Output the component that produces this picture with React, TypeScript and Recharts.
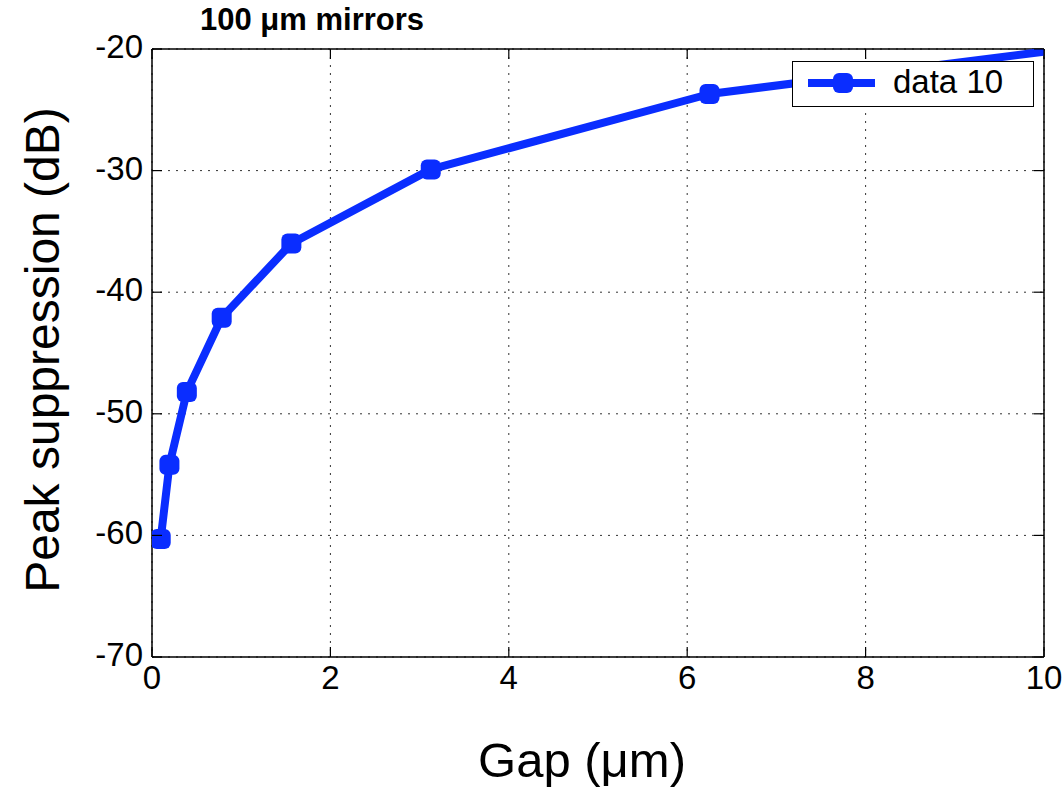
import React from "react";
import {
  LineChart, Line, XAxis, YAxis, CartesianGrid, Legend, ReferenceLine,
} from "recharts";

// gap halves each step: 100 um / 2^n
const gapUm = [0.0977, 0.1953, 0.3906, 0.7813, 1.5625, 3.125, 6.25, 12.5];
const suppressionDb = [-60.3, -54.2, -48.2, -42.1, -36.0, -29.9, -23.7, -17.9];
const xTicks = [0, 2, 4, 6, 8, 10];
const yTicks = [-70, -60, -50, -40, -30, -20];
const seriesName = "data 10";
const titleText = "100 \u03bcm mirrors";
const xLabelText = "Gap (\u03bcm)";
const yLabelText = "Peak suppression (dB)";

const data = gapUm.map((x, i) => ({ x, y: suppressionDb[i] }));

const W = 1064;
const H = 790;
const PLOT_LEFT = 152;
const PLOT_RIGHT = 1044;
const PLOT_TOP = 49;
const PLOT_BOTTOM = 657;
const TICK_LEN = 10;
const BLUE = "#0a2dff";
const FONT = "'Liberation Sans', Arial, Helvetica, sans-serif";

function YTick({ x, y, payload }: any) {
  return (
    <g>
      <text x={x} y={y + 9} textAnchor="end" fontSize={33} fill="#000" fontFamily={FONT}>
        {payload.value}
      </text>
      <line x1={PLOT_LEFT} x2={PLOT_LEFT + TICK_LEN} y1={y} y2={y} stroke="#000" strokeWidth={1.2} />
      <line x1={PLOT_RIGHT - TICK_LEN} x2={PLOT_RIGHT} y1={y} y2={y} stroke="#000" strokeWidth={1.2} />
    </g>
  );
}

function XTick({ x, payload }: any) {
  return (
    <g>
      <text x={x} y={PLOT_BOTTOM + 32} textAnchor="middle" fontSize={33} fill="#000" fontFamily={FONT}>
        {payload.value}
      </text>
      <line x1={x} x2={x} y1={PLOT_BOTTOM} y2={PLOT_BOTTOM - TICK_LEN} stroke="#000" strokeWidth={1.2} />
      <line x1={x} x2={x} y1={PLOT_TOP} y2={PLOT_TOP + TICK_LEN} stroke="#000" strokeWidth={1.2} />
    </g>
  );
}

function SquareDot({ cx, cy, index }: any) {
  if (cx == null || cy == null) return null;
  return <rect key={`d-${index}`} x={cx - 10} y={cy - 10} width={20} height={20} rx={6} fill={BLUE} />;
}

function LegendBox({ payload }: any) {
  const item = payload?.[0];
  return (
    <div style={{ width: 242, height: 46, boxSizing: "border-box", border: "1.5px solid #000", background: "#fff" }}>
      <svg width={240} height={43} style={{ display: "block" }}>
        <line x1={15} x2={82} y1={21} y2={21} stroke={item?.color ?? BLUE} strokeWidth={8} />
        <rect x={40} y={11} width={20} height={20} rx={6} fill={item?.color ?? BLUE} />
        <text x={100} y={31} fontSize={33} fontFamily={FONT} fill="#000">{item?.value}</text>
      </svg>
    </div>
  );
}

export default function App() {
  return (
    <div style={{ position: "absolute", left: 0, top: 0, width: W, height: H, background: "#fff" }}>
      <LineChart
        width={W}
        height={H}
        data={data}
        margin={{ top: PLOT_TOP, right: W - PLOT_RIGHT, left: 0, bottom: 0 }}
        style={{ fontFamily: FONT }}
      >
        <CartesianGrid stroke="#333" strokeWidth={1} strokeDasharray="2 6" />
        <XAxis
          type="number"
          dataKey="x"
          domain={[0, 10]}
          ticks={xTicks}
          allowDataOverflow
          height={H - PLOT_BOTTOM}
          tickLine={false}
          tickSize={0}
          tick={<XTick />}
          axisLine={{ stroke: "#000", strokeWidth: 1.5 }}
          interval={0}
        />
        <YAxis
          type="number"
          domain={[-70, -20]}
          ticks={yTicks}
          allowDataOverflow
          width={PLOT_LEFT}
          tickLine={false}
          tickSize={0}
          tickMargin={9}
          tick={<YTick />}
          axisLine={{ stroke: "#000", strokeWidth: 1.5 }}
          interval={0}
        />
        <ReferenceLine x={10} stroke="#000" strokeWidth={1.5} />
        <ReferenceLine y={-20} stroke="#000" strokeWidth={1.5} />
        <Line
          type="linear"
          dataKey="y"
          name={seriesName}
          stroke={BLUE}
          strokeWidth={8}
          strokeLinejoin="round"
          dot={<SquareDot />}
          activeDot={false}
          isAnimationActive={false}
        />
        <Legend
          layout="horizontal"
          verticalAlign="middle"
          align="center"
          content={<LegendBox />}
          wrapperStyle={{ left: 792, top: 61, width: 242, height: 46 }}
        />
        <text x={312} y={30} textAnchor="middle" fontSize={31} fontWeight="bold" fontFamily={FONT} fill="#000">
          {titleText}
        </text>
        <text x={582} y={777} textAnchor="middle" fontSize={49} fontFamily={FONT} fill="#000">
          {xLabelText}
        </text>
        <text
          x={59}
          y={350}
          textAnchor="middle"
          fontSize={48}
          fontFamily={FONT}
          fill="#000"
          transform="rotate(-90 59 350)"
        >
          {yLabelText}
        </text>
      </LineChart>
    </div>
  );
}
